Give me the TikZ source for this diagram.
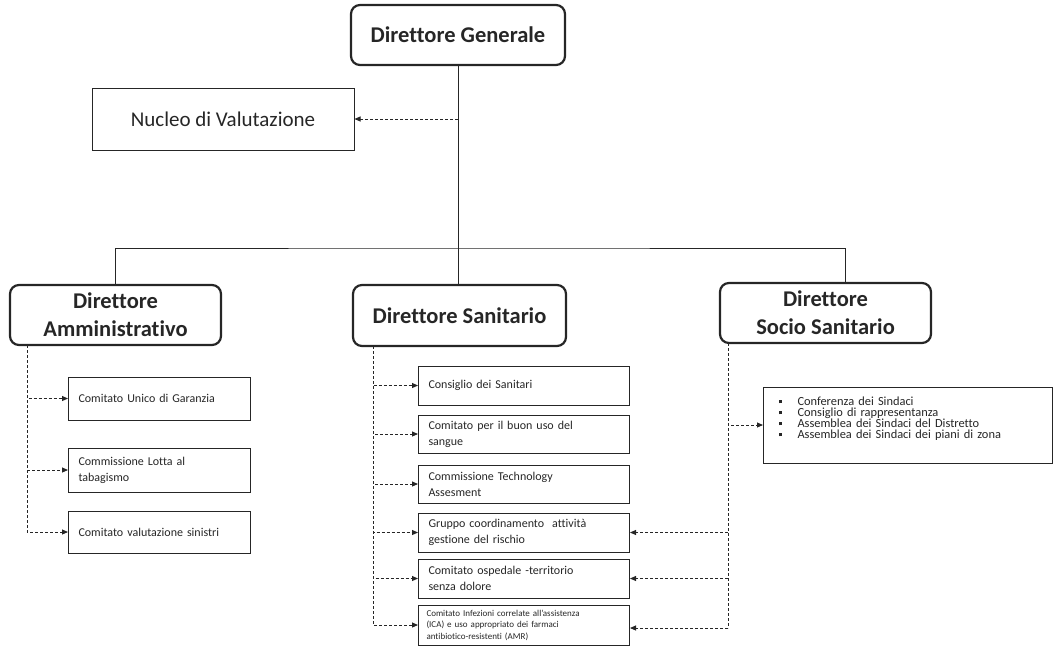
\documentclass[tikz,border=0pt]{standalone}
\usepackage{fontspec}
\setmainfont{Carlito}[Ligatures=NoCommon]
\usetikzlibrary{arrows.meta}
\definecolor{inchiostro}{HTML}{262626}
\tikzset{
  direttore/.style={draw=inchiostro, line width=2.2pt, rounded corners=9pt, align=center,
    text=inchiostro, font=\fontsize{22.5}{28}\selectfont\bfseries},
  organo/.style={draw=inchiostro, line width=1pt, anchor=west, align=left, inner xsep=10pt,
    text=inchiostro, font=\fontsize{12}{16}\selectfont},
  tronco/.style={draw=inchiostro, line width=1pt},
  ramo/.style={draw=inchiostro, line width=0.9pt, dash pattern=on 3pt off 2pt,
    -{Triangle[length=6pt,width=5pt]}},
  traccia/.style={draw=inchiostro, line width=0.9pt, dash pattern=on 3pt off 2pt}
}
\newcommand{\voce}[1]{\rule[2.5pt]{3pt}{3pt}\hspace{16pt}#1}
\begin{document}
\begin{tikzpicture}[x=1pt,y=-1pt]
\useasboundingbox (0,0) rectangle (1055,651);
%direzione
\node[direttore, minimum width=214pt, minimum height=60pt] (dg) at (458,35) {Direttore Generale};
\node[draw=inchiostro, line width=1pt, minimum width=262pt, minimum height=62pt, text=inchiostro,
  font=\fontsize{21}{24}\selectfont] (nv) at (223,119) {Nucleo di Valutazione};
\node[direttore, minimum width=211pt, minimum height=60pt] (da) at (115.5,315) {Direttore\\Amministrativo};
\node[direttore, minimum width=213pt, minimum height=61pt] (ds) at (459.5,315.5) {Direttore Sanitario};
\node[direttore, minimum width=211pt, minimum height=60pt] (dss) at (825.5,313) {Direttore\\Socio Sanitario};
%linee gerarchiche
\coordinate (bus) at (458,248);
\coordinate (dssin) at (845,283);
\coordinate (nvin) at (458,119);
\draw[tronco] (dg.south) -- (bus);
\draw[tronco] (da.north) |- (bus) -| (dssin);
\draw[tronco] (bus) -- (bus |- ds.north);
\draw[ramo] (nvin) -- (nv.east);
%organi amministrativo
\node[organo, text width=162pt, minimum height=43pt] (cug) at (68,398.5) {Comitato Unico di Garanzia};
\node[organo, text width=162pt, minimum height=44pt] (clt) at (68,470) {Commissione Lotta al\\tabagismo};
\node[organo, text width=162pt, minimum height=42pt] (cvs) at (68,532) {Comitato valutazione sinistri};
\coordinate (ta) at (27,345);
\draw[ramo] (ta) |- (cug);
\draw[ramo] (ta) |- (clt);
\draw[ramo] (ta) |- (cvs);
%organi sanitario
\node[organo, text width=191pt, minimum height=39pt] (cs) at (418,385.5) {Consiglio dei Sanitari};
\node[organo, text width=191pt, minimum height=38pt] (cbu) at (418,434) {Comitato per il buon uso del\\sangue};
\node[organo, text width=191pt, minimum height=38pt] (cta) at (418,484) {Commissione Technology\\Assesment};
\node[organo, text width=191pt, minimum height=39pt] (gcr) at (418,532.5) {Gruppo coordinamento~ attività\\gestione del rischio};
\node[organo, text width=191pt, minimum height=39pt] (cot) at (418,578.5) {Comitato ospedale -territorio\\senza dolore};
\node[organo, text width=195pt, inner xsep=8pt, minimum height=40pt, font=\fontsize{9}{11.5}\selectfont] (cia) at (418,625)
  {Comitato Infezioni correlate all'assistenza\\(ICA) e uso appropriato dei farmaci\\antibiotico-resistenti (AMR)};
\coordinate (ts) at (373,346);
\foreach \o in {cs,cbu,cta,gcr,cot,cia}
  \draw[ramo] (ts) |- (\o);
%organi socio sanitario
\node[organo, text width=259pt, inner xsep=15pt, minimum height=76pt, font=\fontsize{12.4}{11}\selectfont] (sind) at (763,425)
  {\voce{Conferenza dei Sindaci}\\\voce{Consiglio di rappresentanza}\\\voce{Assemblea dei Sindaci del Distretto}\\\voce{Assemblea dei Sindaci dei piani di zona}\par\vspace*{12pt}};
\coordinate (tss) at (728,343);
\coordinate (tssend) at (728,628);
\draw[ramo] (tss) |- (sind);
\draw[traccia] (tss) -- (tssend);
\draw[ramo] (tssend) -- (cia.east |- tssend);
\draw[ramo] (tssend |- gcr.east) -- (gcr.east);
\draw[ramo] (tssend |- cot.east) -- (cot.east);
\end{tikzpicture}
\end{document}
